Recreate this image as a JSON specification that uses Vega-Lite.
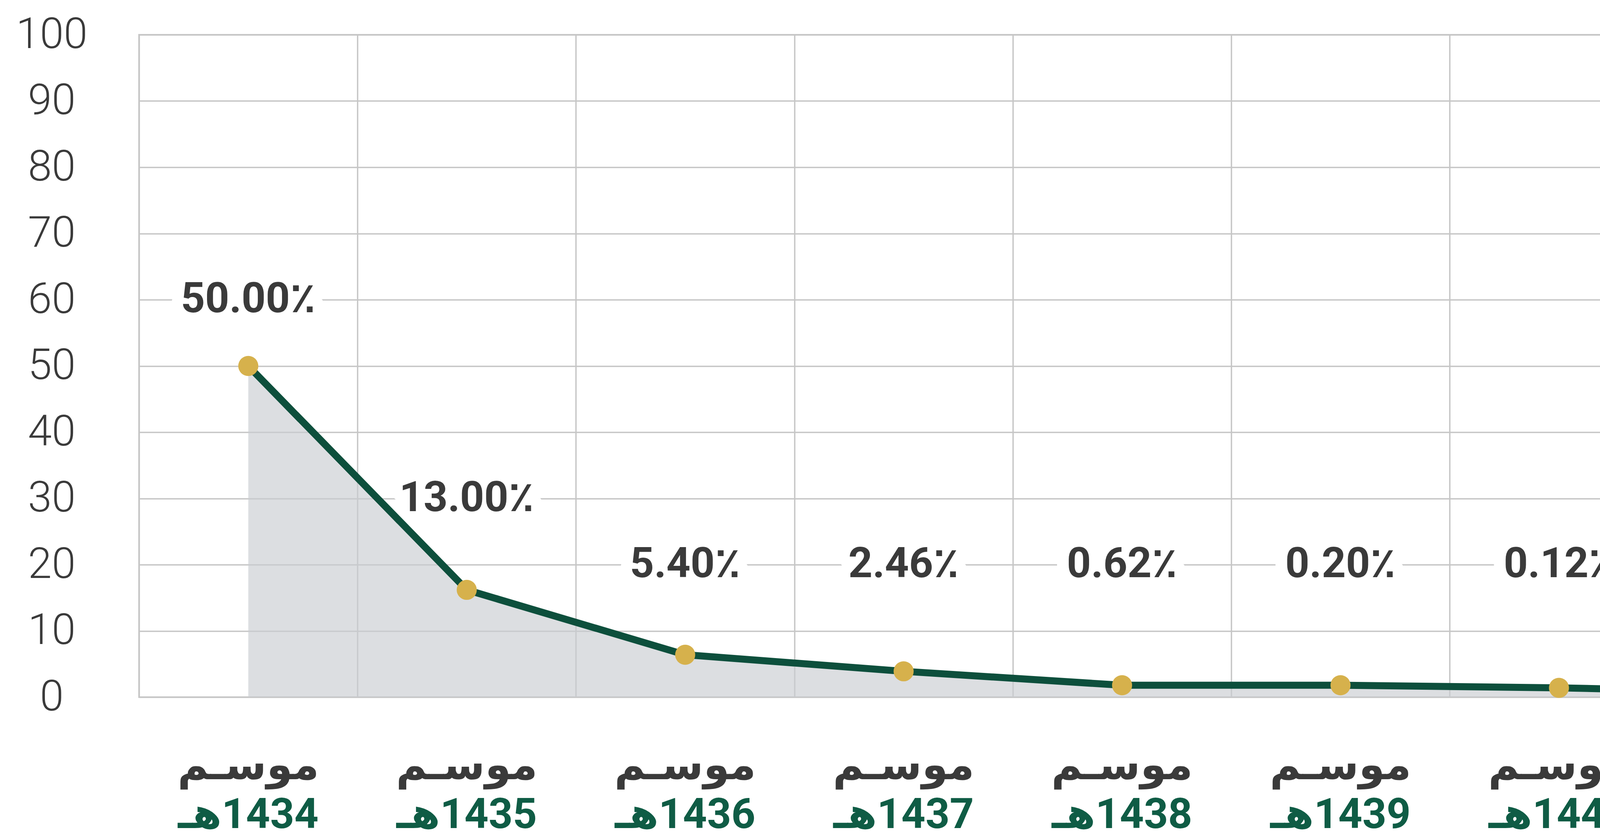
{
  "$schema": "https://vega.github.io/schema/vega-lite/v6.json",
  "padding": {"left": 0, "top": 32, "right": 9, "bottom": 0},
  "background": "white",
  "spacing": 115,
  "bounds": "flush",
  "config": {
    "view": {"stroke": null}
  },
  "data": {
    "values": [
      {"season": "1434", "value": 50.0, "label": "50.00٪", "labelY": 60, "line1": "موسـم", "line2": "\u200f1434هـ"},
      {"season": "1435", "value": 16.2, "label": "13.00٪", "labelY": 30, "line1": "موسـم", "line2": "\u200f1435هـ"},
      {"season": "1436", "value": 6.4, "label": "5.40٪", "labelY": 20, "line1": "موسـم", "line2": "\u200f1436هـ"},
      {"season": "1437", "value": 3.9, "label": "2.46٪", "labelY": 20, "line1": "موسـم", "line2": "\u200f1437هـ"},
      {"season": "1438", "value": 1.8, "label": "0.62٪", "labelY": 20, "line1": "موسـم", "line2": "\u200f1438هـ"},
      {"season": "1439", "value": 1.8, "label": "0.20٪", "labelY": 20, "line1": "موسـم", "line2": "\u200f1439هـ"},
      {"season": "1440", "value": 1.4, "label": "0.12٪", "labelY": 20, "line1": "موسـم", "line2": "\u200f1440هـ"},
      {"season": "1443", "value": 0.7, "label": "0.03٪", "labelY": 20, "line1": "موسـم", "line2": "\u200f1443هـ"},
      {"season": "1444", "value": 0.7, "label": "0.004٪", "labelY": 20, "line1": "موسـم", "line2": "\u200f1444هـ"}
    ]
  },
  "vconcat": [
    {
      "width": 5033,
      "height": 1695,
      "view": {"stroke": "#c6c6c6", "strokeWidth": 4},
      "encoding": {
        "x": {
          "field": "season", "type": "ordinal", "sort": null,
          "scale": {"paddingInner": 0, "paddingOuter": 0},
          "axis": {
            "orient": "bottom", "title": null, "domain": false, "ticks": false, "tickSize": 0,
            "tickBand": "extent", "grid": true, "gridColor": "#c6c6c6", "gridWidth": 3.5,
            "labels": false, "minExtent": 0, "maxExtent": 0
          }
        },
        "y": {
          "field": "value", "type": "quantitative",
          "scale": {"domain": [0, 100], "nice": false},
          "axis": {
            "orient": "left", "title": null, "values": [0, 10, 20, 30, 40, 50, 60, 70, 80, 90, 100],
            "domain": false, "ticks": false, "tickSize": 0, "grid": true,
            "gridColor": "#c6c6c6", "gridWidth": 3.5,
            "labelFont": "Roboto", "labelFontSize": 110, "labelFontWeight": 300, "labelColor": "#3a3a3a",
            "labelAlign": "center", "labelBaseline": "middle", "labelPadding": 224, "labelLimit": 1000,
            "minExtent": 354, "maxExtent": 354
          }
        }
      },
      "layer": [
        {
          "mark": {"type": "area", "color": "#c9ccd1", "opacity": 0.65, "interpolate": "linear"},
          "encoding": {"y": {"field": "value", "type": "quantitative", "stack": null}}
        },
        {
          "mark": {"type": "text", "font": "Roboto, DejaVu Sans", "fontWeight": "bold", "fontSize": 108,
            "baseline": "middle", "align": "center", "stroke": "white", "strokeWidth": 60, "strokeJoin": "round", "fill": "white"},
          "encoding": {
            "y": {"field": "labelY", "type": "quantitative"},
            "text": {"field": "label"}
          }
        },
        {
          "mark": {"type": "line", "color": "#0d4f3c", "strokeWidth": 18, "interpolate": "linear"}
        },
        {
          "mark": {"type": "point", "filled": true, "color": "#d6b14c", "size": 2640, "opacity": 1}
        },
        {
          "mark": {"type": "text", "font": "Roboto, DejaVu Sans", "fontWeight": "bold", "fontSize": 108,
            "baseline": "middle", "align": "center", "color": "#3a3a3a"},
          "encoding": {
            "y": {"field": "labelY", "type": "quantitative"},
            "text": {"field": "label"}
          }
        }
      ]
    },
    {
      "width": 5033,
      "height": 250,
      "view": {"stroke": null},
      "transform": [{"fold": ["line1", "line2"], "as": ["line", "text"]}],
      "mark": {"type": "text", "font": "Roboto, DejaVu Sans", "fontWeight": "bold", "fontSize": 108,
        "baseline": "middle", "align": "center"},
      "encoding": {
        "x": {"field": "season", "type": "ordinal", "sort": null,
          "scale": {"paddingInner": 0, "paddingOuter": 0}, "axis": null},
        "y": {"field": "line", "type": "ordinal", "sort": ["line1", "line2"],
          "scale": {"paddingInner": 0, "paddingOuter": 0}, "axis": null},
        "text": {"field": "text"},
        "color": {"field": "line", "type": "nominal",
          "scale": {"domain": ["line1", "line2"], "range": ["#3a3a3a", "#0f5c45"]}, "legend": null}
      }
    }
  ]
}
